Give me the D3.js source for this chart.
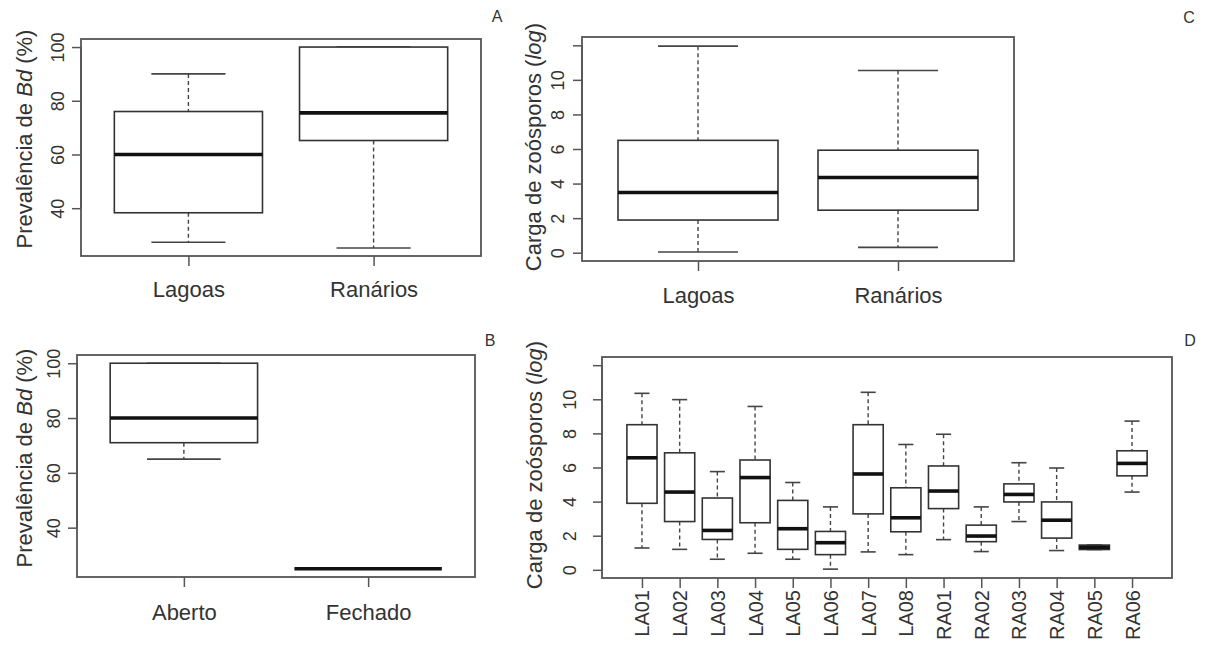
<!DOCTYPE html>
<html>
<head>
<meta charset="utf-8">
<script src="https://cdn.jsdelivr.net/npm/d3@7"></script>
<style>
  body { margin: 0; background: #fff; }
  text { font-family: "Liberation Sans", Arial, sans-serif; fill: #333; }
</style>
</head>
<body>
<div id="chart"></div>
<script>
// A: prevalence by habitat type
var habitats = ["Lagoas", "Ranários"];
var prevHabLow = [27.3, 25.2];
var prevHabQ1 = [38.3, 65.2];
var prevHabMed = [60, 75.5];
var prevHabQ3 = [76, 100];
var prevHabHigh = [90, 100];

// B: prevalence by canopy
var canopy = ["Aberto", "Fechado"];
var prevCanLow = [65, 25];
var prevCanQ1 = [71, 25];
var prevCanMed = [80, 25];
var prevCanQ3 = [100, 25];
var prevCanHigh = [100, 25];

// C: zoospore load by habitat type
var loadHabLow = [0.04, 0.31];
var loadHabQ1 = [1.89, 2.46];
var loadHabMed = [3.48, 4.35];
var loadHabQ3 = [6.5, 5.93];
var loadHabHigh = [11.95, 10.54];

// D: zoospore load by site
var sites = ["LA01", "LA02", "LA03", "LA04", "LA05", "LA06", "LA07", "LA08",
             "RA01", "RA02", "RA03", "RA04", "RA05", "RA06"];
var siteLow  = [1.28, 1.20, 0.62, 0.97, 0.62, 0.04, 1.05, 0.89, 1.77, 1.07, 2.83, 1.13, 1.19, 4.56];
var siteQ1   = [3.90, 2.83, 1.78, 2.76, 1.20, 0.89, 3.28, 2.23, 3.59, 1.65, 3.98, 1.86, 1.19, 5.51];
var siteMed  = [6.57, 4.56, 2.31, 5.41, 2.41, 1.59, 5.62, 3.05, 4.62, 1.98, 4.42, 2.91, 1.32, 6.24];
var siteQ3   = [8.51, 6.86, 4.21, 6.44, 4.07, 2.25, 8.51, 4.81, 6.09, 2.62, 5.04, 3.98, 1.45, 6.98];
var siteHigh = [10.35, 9.98, 5.76, 9.58, 5.12, 3.69, 10.41, 7.35, 7.95, 3.69, 6.28, 5.97, 1.45, 8.72];

var prevTicks = [40, 60, 80, 100];
var prevTickLabels = ["40", "60", "80", "100"];
var loadTicks = [0, 2, 4, 6, 8, 10, 12];
var loadTickLabels = ["0", "2", "4", "6", "8", "10", ""];

var svg = d3.select("#chart").append("svg")
    .attr("width", 1207)
    .attr("height", 650);

svg.append("rect").attr("width", 1207).attr("height", 650).attr("fill", "#fff");

function statsOf(cats, low, q1, med, q3, high) {
    return cats.map(function(c, i) {
        return { cat: c, pos: i + 1, low: low[i], q1: q1[i], med: med[i], q3: q3[i], high: high[i] };
    });
}

function drawPanel(p) {
    var n = p.data.length;
    var pad = n * 0.04;
    var x = d3.scaleLinear().domain([0.5 - pad, n + 0.5 + pad]).range([p.left, p.right]);
    var y = d3.scaleLinear().domain(p.yDomain).range([p.bottom, p.top]);
    var g = svg.append("g");

    var boxHalf = x(1.4) - x(1);
    var capHalf = boxHalf / 2;

    var box = g.selectAll(".box").data(p.data).enter().append("g");

    // whiskers
    box.append("line")
        .attr("x1", d => x(d.pos)).attr("x2", d => x(d.pos))
        .attr("y1", d => y(d.high)).attr("y2", d => y(d.q3))
        .attr("stroke", "#444").attr("stroke-width", 1.4).attr("stroke-dasharray", "4,3");
    box.append("line")
        .attr("x1", d => x(d.pos)).attr("x2", d => x(d.pos))
        .attr("y1", d => y(d.q1)).attr("y2", d => y(d.low))
        .attr("stroke", "#444").attr("stroke-width", 1.4).attr("stroke-dasharray", "4,3");
    // staples
    box.append("line")
        .attr("x1", d => x(d.pos) - capHalf).attr("x2", d => x(d.pos) + capHalf)
        .attr("y1", d => y(d.high)).attr("y2", d => y(d.high))
        .attr("stroke", "#444").attr("stroke-width", 1.6);
    box.append("line")
        .attr("x1", d => x(d.pos) - capHalf).attr("x2", d => x(d.pos) + capHalf)
        .attr("y1", d => y(d.low)).attr("y2", d => y(d.low))
        .attr("stroke", "#444").attr("stroke-width", 1.6);
    // box
    box.append("rect")
        .attr("x", d => x(d.pos) - boxHalf)
        .attr("y", d => y(d.q3))
        .attr("width", 2 * boxHalf)
        .attr("height", d => y(d.q1) - y(d.q3))
        .attr("fill", "#fff").attr("stroke", "#333").attr("stroke-width", 1.6);
    // median
    box.append("line")
        .attr("x1", d => x(d.pos) - boxHalf).attr("x2", d => x(d.pos) + boxHalf)
        .attr("y1", d => y(d.med)).attr("y2", d => y(d.med))
        .attr("stroke", "#111").attr("stroke-width", 3.6);

    // frame
    g.append("rect")
        .attr("x", p.left).attr("y", p.top)
        .attr("width", p.right - p.left).attr("height", p.bottom - p.top)
        .attr("fill", "none").attr("stroke", "#555").attr("stroke-width", 1.8);

    // y axis
    var yAxis = d3.axisLeft(y).tickValues(p.yTicks).tickSize(9).tickFormat((d, i) => p.yTickLabels[i]);
    var ya = g.append("g").attr("transform", "translate(" + p.left + ",0)").call(yAxis);
    ya.select(".domain").remove();
    ya.append("line").attr("x1", 0).attr("x2", 0)
        .attr("y1", y(p.yTicks[0])).attr("y2", y(p.yTicks[p.yTicks.length - 1]))
        .attr("stroke", "#555").attr("stroke-width", 1.5);
    ya.selectAll(".tick line").attr("stroke", "#555").attr("stroke-width", 1.5);
    ya.selectAll(".tick text")
        .attr("x", 0)
        .attr("transform", "translate(" + (-p.yLabelOff) + ",0) rotate(-90)")
        .attr("text-anchor", "middle").attr("dy", "0.35em")
        .style("font-size", "18px").style("font-family", "'Liberation Sans', Arial, sans-serif")
        .attr("fill", "#555");

    // x axis
    var xAxis = d3.axisBottom(x).tickValues(p.data.map(d => d.pos)).tickSize(10)
        .tickFormat((d, i) => p.data[i].cat);
    var xa = g.append("g").attr("transform", "translate(0," + p.bottom + ")").call(xAxis);
    xa.select(".domain").remove();
    xa.selectAll(".tick line").attr("stroke", "#555").attr("stroke-width", 1.5);
    var xt = xa.selectAll(".tick text")
        .style("font-family", "'Liberation Sans', Arial, sans-serif")
        .attr("fill", "#333");
    if (p.rotateX) {
        xt.attr("y", null).attr("dy", "0.35em")
            .attr("transform", "translate(0," + p.xLabelOff + ") rotate(-90)")
            .attr("text-anchor", "end")
            .style("font-size", "20px");
    } else {
        xt.attr("y", p.xLabelOff).attr("dy", "0.35em").style("font-size", "22px");
    }

    // y title
    var t = svg.append("text")
        .attr("transform", "translate(" + p.titleX + "," + p.titleY + ") rotate(-90)")
        .attr("text-anchor", "middle").attr("dy", "0.35em")
        .style("font-size", "22px");
    p.title.forEach(function(part) {
        t.append("tspan").text(part[0]).style("font-style", part[1] ? "italic" : "normal");
    });

    // panel letter
    svg.append("text").attr("x", p.letterX).attr("y", p.letterY)
        .attr("text-anchor", "middle").attr("dy", "0.35em")
        .style("font-size", "16px").text(p.letter);
}

drawPanel({
    data: statsOf(habitats, prevHabLow, prevHabQ1, prevHabMed, prevHabQ3, prevHabHigh),
    left: 81, right: 481, top: 39, bottom: 256, yDomain: [22.2, 103],
    yTicks: prevTicks, yTickLabels: prevTickLabels, yLabelOff: 23,
    xLabelOff: 33, rotateX: false,
    title: [["Prevalência de ", false], ["Bd", true], [" (%)", false]],
    titleX: 24, titleY: 139, letter: "A", letterX: 497, letterY: 16
});

drawPanel({
    data: statsOf(canopy, prevCanLow, prevCanQ1, prevCanMed, prevCanQ3, prevCanHigh),
    left: 77, right: 475, top: 355, bottom: 577, yDomain: [22, 103],
    yTicks: prevTicks, yTickLabels: prevTickLabels, yLabelOff: 23,
    xLabelOff: 35, rotateX: false,
    title: [["Prevalência de ", false], ["Bd", true], [" (%)", false]],
    titleX: 24, titleY: 458, letter: "B", letterX: 490, letterY: 340
});

drawPanel({
    data: statsOf(habitats, loadHabLow, loadHabQ1, loadHabMed, loadHabQ3, loadHabHigh),
    left: 582, right: 1014, top: 37, bottom: 261, yDomain: [-0.48, 12.48],
    yTicks: loadTicks, yTickLabels: loadTickLabels, yLabelOff: 24,
    xLabelOff: 34, rotateX: false,
    title: [["Carga de zoósporos (", false], ["log", true], [")", false]],
    titleX: 533, titleY: 147, letter: "C", letterX: 1189, letterY: 17
});

drawPanel({
    data: statsOf(sites, siteLow, siteQ1, siteMed, siteQ3, siteHigh),
    left: 602, right: 1172, top: 357, bottom: 578, yDomain: [-0.48, 12.48],
    yTicks: loadTicks, yTickLabels: loadTickLabels, yLabelOff: 32,
    xLabelOff: 12, rotateX: true,
    title: [["Carga de zoósporos (", false], ["log", true], [")", false]],
    titleX: 534, titleY: 465, letter: "D", letterX: 1190, letterY: 340
});
</script>
</body>
</html>
